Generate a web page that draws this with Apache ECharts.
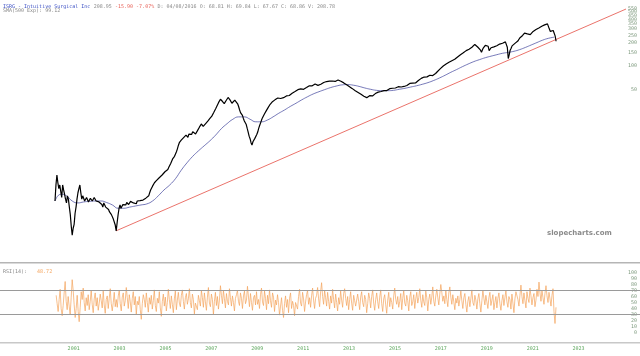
<!DOCTYPE html>
<html><head><meta charset="utf-8">
<script src="https://cdn.jsdelivr.net/npm/echarts@6/dist/echarts.min.js"></script>
<style>html,body{margin:0;padding:0;background:#fff}#c{width:640px;height:356px}</style>
</head><body><div id="c"></div>
<script>
// ---- data ----
const priceStartYear = 2000.45;          // first close, then two closes per month
const priceSemiMonthly = [
1.8,2.9,3.9,3.1,2.6,2.9,2.4,2.0,2.9,2.5,2.2,1.9,1.7,2.1,1.9,1.5,1.2,0.85,0.65,0.8,0.9,1.25,1.5,1.9,
2.3,2.6,2.9,2.3,1.9,2.1,2.0,1.8,1.85,2.0,1.95,1.75,1.8,1.95,1.9,1.8,1.85,2.0,1.95,1.8,1.8,1.7,1.75,1.85,
1.8,1.62,1.5,1.7,1.65,1.5,1.55,1.45,1.4,1.3,1.3,1.2,1.15,1.05,1.0,0.88,0.74,0.95,1.2,1.45,1.6,1.45,1.5,1.62,
1.7,1.58,1.6,1.72,1.75,1.62,1.65,1.78,1.8,1.68,1.7,1.8,1.75,1.66,1.8,1.74,1.72,1.82,1.8,1.9,1.85,1.78,1.9,1.96,
1.85,1.98,2.1,2.3,2.5,2.65,2.8,2.95,3.1,3.25,3.3,3.2,3.5,3.6,3.7,3.55,3.9,4.05,4.1,4.3,4.4,4.25,4.6,4.9,
5.2,5.5,5.8,6.3,6.5,6.8,7.1,7.8,8.5,9.4,10.2,10.6,11.0,11.6,11.7,11.2,12.1,12.8,12.5,12.0,13.2,13.9,13.6,13.1,
14.2,14.8,13.8,13.2,14.0,14.6,15.3,16.2,17.0,17.8,17.3,16.6,16.8,17.6,18.3,18.9,19.5,20.4,21.0,21.6,22.5,23.8,25.0,26.4,
28.0,29.8,31.5,33.6,35.5,37.2,36.5,35.0,34.3,32.6,33.5,35.8,37.5,39.2,38.6,36.5,35.0,33.0,33.2,35.0,36.3,37.0,35.0,32.5,
30.0,27.2,25.0,26.0,23.0,21.0,19.5,18.8,17.5,15.6,14.0,12.4,11.5,10.2,9.5,10.5,10.8,11.6,12.0,13.0,14.0,15.6,17.0,18.4,
20.0,21.5,22.5,24.0,25.0,26.5,27.5,29.2,30.5,32.0,33.0,34.2,35.0,35.8,36.5,37.4,37.5,38.6,39.0,37.8,38.0,39.2,40.0,39.0,
39.5,40.4,41.0,42.2,42.5,41.6,43.0,44.0,44.5,45.6,46.0,46.8,47.0,48.6,49.5,50.8,52.0,50.6,51.0,49.8,50.0,50.9,51.5,52.6,
53.5,54.6,55.5,54.2,54.0,55.4,56.5,57.8,58.5,57.4,57.0,56.2,56.0,57.2,58.0,59.4,60.5,61.2,61.5,62.6,63.0,61.8,62.0,63.6,
65.0,64.2,64.0,62.8,62.5,63.2,63.5,65.0,66.0,65.2,64.5,63.6,63.0,61.8,60.5,59.6,58.5,57.2,56.0,55.0,54.0,53.2,52.0,51.0,
50.0,48.8,48.0,47.0,46.5,45.5,45.0,44.0,43.0,42.0,41.5,40.6,40.0,39.2,39.0,39.8,40.5,41.4,42.0,41.4,41.0,42.4,43.5,44.0,
44.5,45.4,46.0,47.0,47.5,46.8,46.5,47.4,48.0,47.2,47.0,48.2,49.0,50.2,51.0,50.4,50.5,51.6,52.5,53.2,52.0,52.6,53.0,54.0,
54.5,55.2,53.5,54.6,55.5,54.4,54.0,55.2,56.0,57.2,58.0,59.6,61.0,60.2,60.0,58.6,59.0,60.4,62.0,63.4,65.0,66.2,68.0,69.2,
70.0,71.4,72.0,70.8,71.0,72.4,73.0,74.6,76.0,74.8,74.0,75.2,76.0,78.0,80.0,82.4,85.0,87.6,90.0,92.4,95.0,97.8,100,102,
104,106,108,110,112,110,115,117,118,120,122,124,126,131,135,138,140,136,145,148,150,154,158,160,
162,165,168,172,175,180,185,190,192,184,176,170,168,160,150,162,172,178,185,190,188,180,158,152,
172,176,180,177,178,181,183,186,188,192,194,196,197,199,200,205,203,175,125,140,160,170,182,188,
190,196,200,206,210,222,230,236,240,248,255,266,273,268,260,250,245,255,262,270,280,285,290,296,
300,305,310,316,320,326,330,337,340,352,360,350,335,300,280,266,270,288,300,245,209
];
const smaStartYear = 2000.45;            // quarterly points of the SMA(500 Exp)
const smaQuarterly = [
1.8,2.2,2.1,1.8,1.7,1.75,1.78,1.8,1.8,1.72,1.6,1.45,1.45,1.5,1.55,1.6,1.65,1.8,2.1,2.5,
2.9,3.5,4.5,5.6,6.8,8.0,9.3,10.8,12.8,15.5,18.0,20.5,22.0,22.0,20.5,19.0,19.0,20.0,22.0,24.5,
27.0,30.0,33.0,36.5,40.0,43.5,46.5,49.5,52.5,55.0,57.0,57.5,56.5,54.5,52.0,50.0,48.5,48.0,48.0,48.5,
50.0,51.5,53.5,55.5,58,61,65,70,76,83,90,98,106,114,121,128,134,140,146,150,
155,163,174,187,201,216,228,236
];
const rsiStartYear = 2000.5, rsiEndYear = 2022.28;
const rsiValues = [
62,48,35,55,72,40,28,45,66,85,52,38,60,44,30,58,88,70,46,25,
40,62,35,18,42,68,55,74,50,36,58,45,63,38,52,70,47,33,56,66,
44,58,37,49,64,53,41,69,46,32,55,61,40,57,73,48,36,50,67,43,
55,42,61,70,48,36,59,66,44,53,75,58,40,63,51,34,57,68,46,60,
30,52,46,60,38,22,48,63,55,42,66,50,34,58,47,62,39,53,71,45,
35,57,49,68,41,27,52,64,44,59,36,50,72,55,40,61,47,33,56,69,
38,54,67,49,43,62,71,52,39,58,65,47,56,73,50,41,64,55,31,49,
48,38,62,53,44,70,58,42,66,51,37,59,75,49,43,64,55,30,52,67,
45,60,39,54,78,62,48,70,56,41,65,52,46,73,58,44,61,50,36,57,
63,70,52,45,66,57,40,61,69,48,54,77,59,43,65,50,37,58,62,46,
68,47,55,40,63,74,51,45,69,57,38,62,48,71,53,42,66,59,35,54,
46,63,50,29,44,58,37,25,48,61,42,55,33,57,66,40,52,45,28,50,
53,39,60,72,49,44,67,56,35,51,63,70,47,58,42,61,74,54,40,57,
62,75,56,43,68,83,60,47,70,58,44,67,52,39,61,49,72,55,41,64,
50,36,58,47,69,54,42,65,73,57,45,60,38,55,68,49,37,62,53,44,
45,64,52,38,59,68,50,43,62,55,33,48,66,57,41,60,71,49,37,55,
66,51,40,59,71,48,35,56,63,46,32,54,67,43,58,50,39,61,74,55,
47,60,42,52,65,38,57,70,49,44,62,53,36,59,68,45,51,63,40,56,
67,49,58,73,54,42,63,51,45,69,58,36,55,64,47,59,76,52,44,61,
72,58,46,64,80,67,52,61,48,70,55,43,66,76,59,47,63,51,38,57,
49,61,44,55,69,53,40,58,65,47,34,52,60,43,56,71,50,45,62,54,
39,56,65,48,34,53,70,57,46,62,51,40,58,67,45,54,63,38,50,60,
41,57,66,48,37,53,63,45,58,70,51,42,60,55,39,64,49,33,56,68,
71,55,44,62,79,60,48,66,53,41,68,57,50,74,61,46,58,65,43,54,
72,60,84,66,52,70,58,47,65,78,61,50,67,56,44,62,73,35,15,42
];
const trendPoints = [[2003.11, 0.74], [2025.33, 545]];
const xTickYears = [2001,2003,2005,2007,2009,2011,2013,2015,2017,2019,2021,2023];
const priceTicks = [50,100,150,200,250,300,350,400,450,500,550,600];
const rsiTicks = [0,10,20,30,40,50,60,70,80,90,100];
const rsiBands = [70, 30];

// ---- build ----
const pricePts = priceSemiMonthly.map((v,i)=>[priceStartYear + i/24, v]);
const smaPts = smaQuarterly.map((v,i)=>[smaStartYear + i/4, v]);
const rsiStep = (rsiEndYear - rsiStartYear)/(rsiValues.length-1);
const rsiPts = rsiValues.map((v,i)=>[rsiStartYear + i*rsiStep, v]);

const X_MIN = 1998.0535, X_MAX = 2025.94;
const chart = echarts.init(document.getElementById('c'), null, {renderer:'canvas'});
const lab = {fontFamily:'DejaVu Sans Mono', fontSize:5};
chart.setOption({
  animation:false,
  backgroundColor:'#fff',
  grid:[{left:0,right:0,top:0,height:258},{left:0,right:0,top:272.5,height:60}],
  xAxis:[
    {gridIndex:0,type:'value',min:X_MIN,max:X_MAX,axisLine:{show:false},axisTick:{show:false},axisLabel:{show:false},splitLine:{show:false}},
    {gridIndex:1,type:'value',min:X_MIN,max:X_MAX,axisLine:{show:false},axisTick:{show:false},splitLine:{show:false},
     axisLabel:Object.assign({show:true,customValues:xTickYears,color:'#5aa55a',margin:14,align:'left',formatter:v=>String(v)},lab)}
  ],
  yAxis:[
    {gridIndex:0,type:'log',logBase:10,min:0.33,max:713,position:'right',axisLine:{show:false},axisTick:{show:false},splitLine:{show:false},
     axisLabel:Object.assign({show:true,inside:true,customValues:priceTicks,color:'#7f9a7f',margin:3,formatter:v=>String(Math.round(v))},lab)},
    {gridIndex:1,type:'value',min:0,max:100,position:'right',axisLine:{show:false},axisTick:{show:false},splitLine:{show:false},
     axisLabel:Object.assign({show:true,inside:true,customValues:rsiTicks,color:'#7f9a7f',margin:3},lab)}
  ],
  series:[
    {type:'line',xAxisIndex:0,yAxisIndex:0,data:trendPoints,symbol:'none',lineStyle:{color:'#e8635a',width:0.9},silent:true},
    {type:'line',xAxisIndex:0,yAxisIndex:0,data:smaPts,symbol:'none',smooth:true,lineStyle:{color:'#3b3f9a',width:0.7},silent:true},
    {type:'line',xAxisIndex:0,yAxisIndex:0,data:pricePts,symbol:'none',lineStyle:{color:'#000',width:1.2},silent:true},
    {type:'line',xAxisIndex:1,yAxisIndex:1,data:rsiPts,symbol:'none',lineStyle:{color:'#f4a45c',width:0.7},silent:true,
     markLine:{silent:true,symbol:'none',label:{show:false},lineStyle:{color:'#9a9a9a',width:1,type:'solid'},
       data:rsiBands.map(v=>({yAxis:v}))}}
  ],
  graphic:[
    {type:'rect',shape:{x:0,y:262,width:640,height:1.5},style:{fill:'#b5b5b5'},silent:true},
    {type:'rect',shape:{x:0,y:342,width:640,height:1.5},style:{fill:'#c8c8c8'},silent:true},
    {type:'text',left:3,top:1,style:{rich:{
        a:{fill:'#3b4fc4',fontFamily:'DejaVu Sans Mono',fontSize:5,textDecoration:'underline'},
        g:{fill:'#888',fontFamily:'DejaVu Sans Mono',fontSize:5},
        r:{fill:'#e8635a',fontFamily:'DejaVu Sans Mono',fontSize:5}},
      text:'{a|ISRG - Intuitive Surgical Inc} {g|208.95} {r|-15.90 -7.07%} {g|D: 04/08/2016 O: 68.81 H: 69.84 L: 67.67 C: 68.86 V: 208.78}'}},
    {type:'text',left:3,top:8,style:{text:'SMA(500 Exp): 99.12',fill:'#888',fontFamily:'DejaVu Sans Mono',fontSize:5}},
    {type:'text',left:3,top:265.5,style:{rich:{
        g:{fill:'#888',fontFamily:'DejaVu Sans Mono',fontSize:5},
        o:{fill:'#f4a45c',fontFamily:'DejaVu Sans Mono',fontSize:5}},
      text:'{g|RSI(14):}   {o|48.72}'}},
    {type:'text',left:547,top:230,style:{text:'slopecharts.com',fill:'#8a8a8a',fontFamily:'DejaVu Sans',fontWeight:'bold',fontSize:7}}
  ]
});
</script></body></html>
